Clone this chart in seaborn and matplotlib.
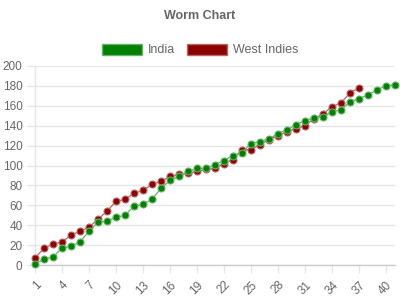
import matplotlib
matplotlib.use("Agg")
import matplotlib.pyplot as plt
from matplotlib.patches import Patch
import seaborn as sns
import pandas as pd

overs_india = list(range(1, 42))
india = [1, 6, 8, 17, 19, 23, 34, 43, 44, 48,
         50, 59, 61, 66, 77, 85, 89, 94, 97, 97,
         101, 105, 110, 113, 122, 124, 127, 132, 136, 141,
         145, 148, 149, 154, 156, 164, 167, 171, 176, 180,
         181]
overs_wi = list(range(1, 38))
west_indies = [7, 17, 21, 23, 30, 34, 38, 46, 54, 64,
               66, 72, 75, 81, 84, 89, 91, 92, 94, 96,
               97, 102, 106, 116, 116, 121, 126, 130, 134, 137,
               140, 147, 152, 159, 163, 173, 178]
x_ticks = list(range(1, 41, 3))
y_ticks = list(range(0, 201, 20))
series_names = ["India", "West Indies"]
series_colors = ["#008000", "#8b0000"]
edge_colors = ["#66b366", "#b96666"]

sns.set_theme(style="white")
plt.rcParams['font.family'] = ['Liberation Sans', 'DejaVu Sans']

df_in = pd.DataFrame({"over": overs_india, "runs": india})
df_wi = pd.DataFrame({"over": overs_wi, "runs": west_indies})

fig = plt.figure(figsize=(4, 3), dpi=100)
ax = fig.add_axes([35/400, 35/300, 360/400, 199/300])

grid_c = "#e6e6e6"
text_c = "#666666"

for d, c, ec, z in [(df_wi, series_colors[1], edge_colors[1], 3), (df_in, series_colors[0], edge_colors[0], 4)]:
    sns.lineplot(data=d, x="over", y="runs", ax=ax, color=ec, linewidth=0.9,
                 marker="o", markersize=5, markerfacecolor=c,
                 markeredgecolor=ec, markeredgewidth=0.8, zorder=z,
                 clip_on=False)

ax.set_xlim(1, 41)
ax.set_ylim(0, 200)
ax.set_xticks(x_ticks)
ax.set_xticklabels([str(t) for t in x_ticks], rotation=45, ha="right",
                   rotation_mode="anchor")
ax.set_yticks(y_ticks)
ax.set_yticklabels([str(t) for t in y_ticks])
ax.set_xlabel("")
ax.set_ylabel("")
ax.yaxis.grid(True, color=grid_c, linewidth=1)
ax.xaxis.grid(False)
for s in ["top", "right"]:
    ax.spines[s].set_visible(False)
ax.spines["left"].set_color(grid_c)
ax.spines["bottom"].set_color("#cccccc")
ax.spines["left"].set_linewidth(1)
ax.spines["bottom"].set_linewidth(1)
ax.tick_params(axis="both", which="both", length=6, width=1, color=grid_c,
               labelcolor=text_c, labelsize=8.5, pad=3, left=True, bottom=True)
ax.tick_params(axis="x", pad=4)
ax.set_axisbelow(True)

fig.text(0.5, 1 - 16/300, "Worm Chart", ha="center", va="center",
         fontsize=9, fontweight="bold", color=text_c)

handles = [Patch(facecolor=series_colors[i], edgecolor=edge_colors[i], linewidth=1,
                 label=series_names[i]) for i in range(2)]
fig.legend(handles=handles, loc="center", bbox_to_anchor=(0.5, 1 - 50/300),
           ncol=2, frameon=False, fontsize=9, labelcolor=text_c,
           handlelength=3.2, handleheight=1.0, handletextpad=0.5,
           columnspacing=0.9, borderpad=0)

fig.savefig("out.png", dpi=100)
